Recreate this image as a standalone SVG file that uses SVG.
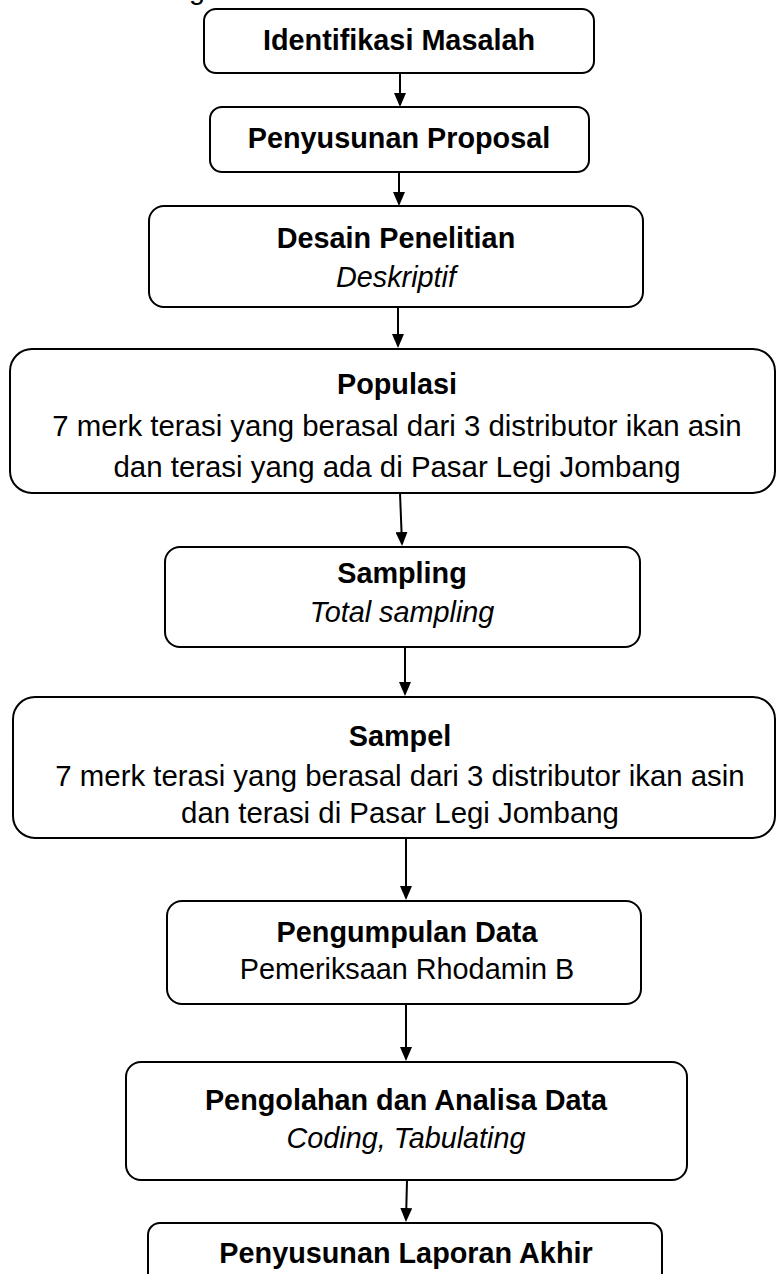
<svg xmlns="http://www.w3.org/2000/svg" width="777" height="1274" viewBox="0 0 777 1274">
<style>
.box{fill:#fff;stroke:#000;stroke-width:2}
.t{font-family:"Liberation Sans",Arial,sans-serif;font-size:28.8px;fill:#000;text-anchor:middle}
.w{font-size:29.4px}
.b{font-weight:bold}
.i{font-style:italic}
.c{stroke:#000;stroke-width:2;fill:none}
</style>
<defs>
<marker id="ah" viewBox="0 0 14 12" refX="12" refY="6" markerWidth="14" markerHeight="12" markerUnits="userSpaceOnUse" orient="auto">
<path d="M0,0 L14,6 L0,12 z" fill="#000"/>
</marker>
</defs>
<rect width="777" height="1274" fill="#fff"/>
<text class="t" x="197" y="-1">g</text>
<g id="connectors">
<line class="c" x1="400" y1="73" x2="400" y2="105" marker-end="url(#ah)"/>
<line class="c" x1="399" y1="172" x2="399" y2="204" marker-end="url(#ah)"/>
<line class="c" x1="398" y1="307" x2="398" y2="346" marker-end="url(#ah)"/>
<line class="c" x1="400" y1="493" x2="402" y2="544" marker-end="url(#ah)"/>
<line class="c" x1="405" y1="647" x2="405" y2="694" marker-end="url(#ah)"/>
<line class="c" x1="406" y1="838" x2="406" y2="898" marker-end="url(#ah)"/>
<line class="c" x1="406" y1="1004" x2="406" y2="1059" marker-end="url(#ah)"/>
<line class="c" x1="407" y1="1180" x2="406" y2="1220" marker-end="url(#ah)"/>
</g>
<g id="n1">
<rect class="box" x="204" y="9" width="390" height="64" rx="12"/>
<text class="t b" x="399" y="50">Identifikasi Masalah</text>
</g>
<g id="n2">
<rect class="box" x="210" y="107" width="379" height="65" rx="12"/>
<text class="t b" x="399" y="148">Penyusunan Proposal</text>
</g>
<g id="n3">
<rect class="box" x="149" y="206" width="494" height="101" rx="15"/>
<text class="t b" x="396" y="248">Desain Penelitian</text>
<text class="t i" x="396" y="287">Deskriptif</text>
</g>
<g id="n4">
<rect class="box" x="10" y="349" width="765" height="144" rx="22"/>
<text class="t b" x="397" y="394">Populasi</text>
<text class="t w" x="397" y="436">7 merk terasi yang berasal dari 3 distributor ikan asin</text>
<text class="t w" x="397" y="477">dan terasi yang ada di Pasar Legi Jombang</text>
</g>
<g id="n5">
<rect class="box" x="165" y="547" width="475" height="100" rx="15"/>
<text class="t b" x="402" y="583">Sampling</text>
<text class="t i" x="402" y="622">Total sampling</text>
</g>
<g id="n6">
<rect class="box" x="13" y="697" width="762" height="141" rx="22"/>
<text class="t b" x="400" y="746">Sampel</text>
<text class="t w" x="400" y="786">7 merk terasi yang berasal dari 3 distributor ikan asin</text>
<text class="t w" x="400" y="823">dan terasi di Pasar Legi Jombang</text>
</g>
<g id="n7">
<rect class="box" x="167" y="901" width="474" height="103" rx="15"/>
<text class="t b" x="407" y="942">Pengumpulan Data</text>
<text class="t" x="407" y="979">Pemeriksaan Rhodamin B</text>
</g>
<g id="n8">
<rect class="box" x="126" y="1062" width="561" height="118" rx="15"/>
<text class="t b" x="406" y="1110">Pengolahan dan Analisa Data</text>
<text class="t i" x="406" y="1148">Coding, Tabulating</text>
</g>
<g id="n9">
<rect class="box" x="148" y="1223" width="514" height="80" rx="12"/>
<text class="t b" x="406" y="1263">Penyusunan Laporan Akhir</text>
</g>
</svg>
